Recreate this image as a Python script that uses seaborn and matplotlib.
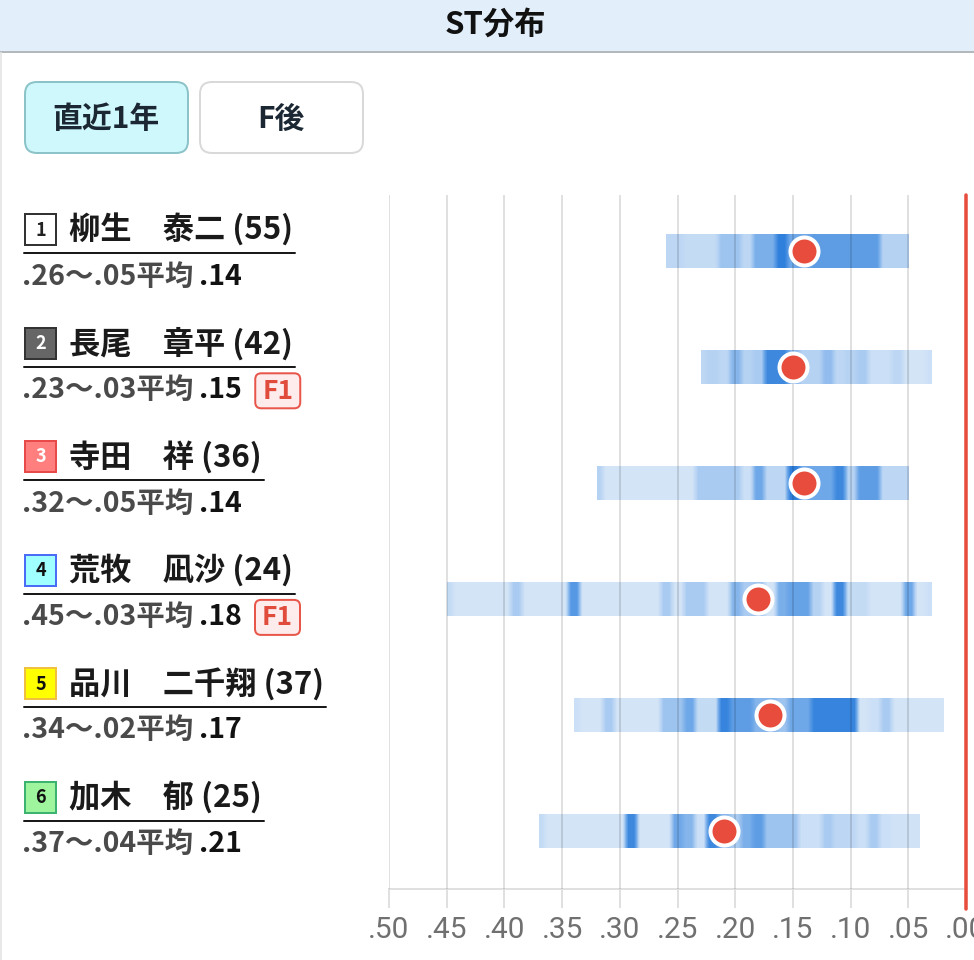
import numpy as np
import pandas as pd
import matplotlib
matplotlib.use("Agg")
import matplotlib.pyplot as plt
import seaborn as sns
from matplotlib.patches import Rectangle, FancyBboxPatch
from matplotlib.colors import LinearSegmentedColormap
from matplotlib.ticker import FuncFormatter

# racer data
lanes = [1, 2, 3, 4, 5, 6]
names = ['柳生　泰二', '長尾　章平', '寺田　祥', '荒牧　凪沙', '品川　二千翔', '加木　郁']
ages = [55, 42, 36, 24, 37, 25]
st_slow = [0.26, 0.23, 0.32, 0.45, 0.34, 0.37]
st_fast = [0.05, 0.03, 0.05, 0.03, 0.02, 0.04]
st_avg = [0.14, 0.15, 0.14, 0.18, 0.17, 0.21]
flying = [0, 1, 0, 1, 0, 0]

# ST frequency (relative), one value per 0.01 from slowest to fastest
dens1 = [0.25, 0.25, 0.2, 0.2, 0.2, 0.4, 0.4, 0.25, 0.55, 0.55, 1.0,
         0.6, 0.6, 0.7, 0.7, 0.7, 0.7, 0.7, 0.7, 0.3, 0.3, 0.3]
dens2 = [0.25, 0.3, 0.25, 0.5, 0.3, 0.35, 0.9, 0.9, 0.5, 0.3, 0.3,
         0.45, 0.25, 0.3, 0.35, 0.15, 0.15, 0.25, 0.1, 0.1, 0.15]
dens3 = [0.3, 0.1, 0.1, 0.1, 0.1, 0.1, 0.1, 0.1, 0.1, 0.35, 0.35, 0.35, 0.35, 0.15,
         0.6, 0.25, 0.25, 1.0, 0.6, 0.6, 0.6, 0.9, 0.3, 0.7, 0.7, 0.25, 0.25, 0.25]
dens4 = [0.2, 0.1, 0.1, 0.1, 0.1, 0.1, 0.35, 0.1, 0.1, 0.1, 0.1, 0.75, 0.1, 0.1,
         0.1, 0.1, 0.1, 0.1, 0.1, 0.35, 0.1, 0.35, 0.35, 0.1, 0.1, 0.5, 0.35, 0.4,
         0.1, 0.55, 0.65, 0.65, 0.3, 0.1, 0.9, 0.2, 0.2, 0.1, 0.1, 0.1, 0.6, 0.1, 0.15]
dens5 = [0.15, 0.1, 0.1, 0.35, 0.1, 0.1, 0.1, 0.1, 0.4, 0.4, 0.6, 0.2, 0.2, 0.95,
         0.7, 0.7, 0.5, 0.5, 0.4, 0.6, 0.6, 0.95, 0.95, 0.95, 0.95, 0.1, 0.15, 0.35,
         0.1, 0.1, 0.1, 0.1, 0.1]
dens6 = [0.2, 0.1, 0.1, 0.1, 0.1, 0.1, 0.1, 0.1, 0.9, 0.1, 0.1, 0.1, 0.6, 0.5,
         0.15, 0.9, 0.5, 0.35, 0.55, 0.7, 0.4, 0.4, 0.4, 0.15, 0.15, 0.35, 0.25,
         0.25, 0.15, 0.35, 0.15, 0.12, 0.12, 0.12]
densities = [dens1, dens2, dens3, dens4, dens5, dens6]

x_ticks = [0.50, 0.45, 0.40, 0.35, 0.30, 0.25, 0.20, 0.15, 0.10, 0.05, 0.00]

badge_fill = ['#ffffff', '#666666', '#ff7f7f', '#a0ffff', '#ffff00', '#9ef59e']
badge_edge = ['#333333', '#333333', '#e84a4a', '#4a6cf7', '#f0c040', '#3cb371']
badge_text = ['#222222', '#ffffff', '#ffffff', '#111111', '#111111', '#111111']

sns.set_style('white')
plt.rcParams['font.family'] = ['Noto Sans CJK JP', 'DejaVu Sans']

W, H = 974, 960
fig = plt.figure(figsize=(W / 100, H / 100), dpi=100)
fig.patch.set_facecolor('white')
PT = 0.72  # px -> pt

# overlay in pixel coords for the panel decoration
ov = fig.add_axes([0, 0, 1, 1], zorder=0)
ov.set_xlim(0, W)
ov.set_ylim(H, 0)
ov.axis('off')

ov.add_patch(Rectangle((0, 0), W, 51, facecolor='#e2effb', edgecolor='none'))
ov.plot([0, W], [52, 52], color='#b3b8bd', lw=2 * PT)
ov.text(495, 25, 'ST分布', ha='center', va='center', fontsize=22.5, fontweight='bold', color='#111111')
ov.plot([1, 1], [53, H], color='#e8e8e8', lw=2 * PT)

ov.add_patch(FancyBboxPatch((25, 82), 163, 71, boxstyle='round,pad=0,rounding_size=12',
                            facecolor='#cff8fc', edgecolor='#8cc3c9', lw=2 * PT))
ov.text(106, 119, '直近1年', ha='center', va='center', fontsize=21.5, fontweight='bold', color='#1b2733')
ov.add_patch(FancyBboxPatch((200, 82), 163, 71, boxstyle='round,pad=0,rounding_size=12',
                            facecolor='white', edgecolor='#d9d9d9', lw=2 * PT))
ov.text(281, 119, 'F後', ha='center', va='center', fontsize=21.5, fontweight='bold', color='#1b2733')

renderer = fig.canvas.get_renderer()
for i in range(len(lanes)):
    ny = 230 + 113.5 * i
    sy = 277 + 113.3 * i
    uy = 253 + 113.6 * i
    ov.add_patch(Rectangle((25, ny - 16), 31, 31, facecolor=badge_fill[i],
                           edgecolor=badge_edge[i], lw=2 * PT))
    ov.text(40.5, ny, str(lanes[i]), ha='center', va='center', fontsize=13,
            fontweight='bold', color=badge_text[i])
    t = ov.text(69, ny, f'{names[i]} ({ages[i]})', ha='left', va='center',
                fontsize=22.5, fontweight='bold', color='#1a1a1a')
    bb = t.get_window_extent(renderer)
    ov.plot([24, bb.x1 + 2], [uy, uy], color='#1a1a1a', lw=2 * PT)
    rng = f'.{round(st_slow[i] * 100):02d}～.{round(st_fast[i] * 100):02d}平均'
    t2 = ov.text(22, sy, rng, ha='left', va='center', fontsize=20.5,
                 fontweight='bold', color='#4a4a4a')
    bb2 = t2.get_window_extent(renderer)
    t3 = ov.text(bb2.x1 + 6, sy, f'.{round(st_avg[i] * 100):02d}', ha='left', va='center',
                 fontsize=20.5, fontweight='bold', color='#111111')
    bb3 = t3.get_window_extent(renderer)
    if flying[i]:
        fx = bb3.x1 + 13
        ov.add_patch(FancyBboxPatch((fx, sy - 17), 45, 35, boxstyle='round,pad=0,rounding_size=6',
                                    facecolor='#fdeceb', edgecolor='#e8564a', lw=2 * PT))
        ov.text(fx + 22.5, sy + 1, f'F{flying[i]}', ha='center', va='center', fontsize=19,
                fontweight='bold', color='#e04b3c')

# main chart
ax = fig.add_axes([389 / W, 71 / H, 577 / W, 694 / H], zorder=2)
ax.patch.set_alpha(0)

cmap = LinearSegmentedColormap.from_list(
    'st', [(0.0, '#e2edf9'), (0.3, '#b5d2f3'), (0.6, '#6fa8e8'), (1.0, '#2f80dc')])
h = 0.147
rep = 2  # display sub-steps per 0.01 cell, keeps each cell's colour flatter
for i, dens in enumerate(densities):
    hi, lo = st_slow[i], st_fast[i]
    arr = np.repeat(np.array(dens), rep)[None, :]
    im = ax.imshow(arr, cmap=cmap, vmin=0, vmax=1, aspect='auto', interpolation='bilinear',
                   extent=(hi + 0.005, lo - 0.005, i + h, i - h), zorder=1)
    clip = Rectangle((lo, i - h), hi - lo, 2 * h, transform=ax.transData)
    im.set_clip_path(clip)

df = pd.DataFrame({'avg': st_avg, 'row': list(range(len(lanes)))})
sns.scatterplot(data=df, x='avg', y='row', ax=ax, color='#e74c3c', s=(28 * PT) ** 2,
                edgecolor='white', linewidth=4 * PT, zorder=5, legend=False)

ax.set_xlim(0.50, 0.00)
ax.set_ylim(5.5, -0.487)
ax.set_xticks(x_ticks)
ax.xaxis.set_major_formatter(FuncFormatter(lambda v, p: f'{v:.2f}'[1:]))
ax.set_yticks([])
ax.set_xlabel('')
ax.set_ylabel('')
ax.set_axisbelow(False)
ax.grid(axis='x', color='#000000', alpha=0.12, lw=2 * PT, zorder=2)
ax.grid(axis='y', visible=False)
for s in ['top', 'left', 'right']:
    ax.spines[s].set_visible(False)
ax.spines['bottom'].set_color('#e0e0e0')
ax.spines['bottom'].set_linewidth(2 * PT)
ax.tick_params(axis='x', length=19 * PT, width=2 * PT, color='#e0e0e0', labelcolor='#707070',
               labelsize=21.5, pad=6, bottom=True)
for lab in ax.get_xticklabels():
    lab.set_fontfamily('Roboto')
ax.axvline(0.0, ymin=-0.029, ymax=1, color='#e74c3c', lw=3.5 * PT, clip_on=False, zorder=6)

fig.savefig('out.png', dpi=100)
